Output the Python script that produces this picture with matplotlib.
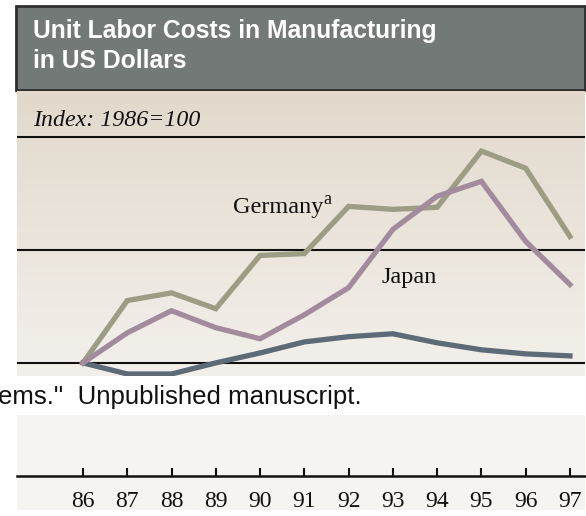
import numpy as np
import matplotlib
matplotlib.use("Agg")
import matplotlib.pyplot as plt
from matplotlib.patches import Rectangle
from matplotlib.colors import LinearSegmentedColormap

# Index values, 1986 = 100
years = [86, 87, 88, 89, 90, 91, 92, 93, 94, 95, 96, 97]
year_labels = ["86", "87", "88", "89", "90", "91", "92", "93", "94", "95", "96", "97"]
germany = [100, 127.6, 131.0, 124.0, 147.6, 148.4, 169.3, 168.0, 168.9, 193.8, 186.2, 156.0]
japan = [100, 113.3, 123.1, 115.6, 110.7, 121.3, 133.3, 159.1, 173.8, 180.4, 153.8, 134.7]
united_states = [100, 95.1, 95.1, 100.0, 104.4, 109.3, 111.6, 112.9, 108.9, 105.8, 104.0, 103.1]
grid_levels = [100, 150, 200]

W, H = 586, 516
fig = plt.figure(figsize=(W / 100, H / 100), dpi=100)
fig.patch.set_facecolor("white")


def box(x0, y0, x1, y1):
    """Pixel box (top-left origin) -> figure fraction rect."""
    return [x0 / W, 1 - y1 / H, (x1 - x0) / W, (y1 - y0) / H]


def px(x, y):
    return x / W, 1 - y / H


# Title banner
fig.patches.append(Rectangle(px(16, 90), (585 - 16) / W, (90 - 6) / H,
                             transform=fig.transFigure, facecolor="#737977",
                             edgecolor="#2e2e2e", linewidth=2, zorder=-1))
fig.text(*px(33, 31), "Unit Labor Costs in Manufacturing", color="white",
         fontsize=17.7, fontweight="bold", family="Liberation Sans", va="center", ha="left")
fig.text(*px(33, 61), "in US Dollars", color="white",
         fontsize=17.7, fontweight="bold", family="Liberation Sans", va="center", ha="left")

# Main panel
x_lo, x_hi = 84.51, 97.34
ax = fig.add_axes(box(17, 91, 585, 376))
ax.set_xlim(x_lo, x_hi)
ax.set_ylim(94.2, 220.4)
grad = LinearSegmentedColormap.from_list("panel", ["#e2d9cc", "#f3f0eb"])
ax.imshow(np.linspace(0, 1, 256).reshape(-1, 1), cmap=grad, aspect="auto",
          extent=[0, 1, 0, 1], transform=ax.transAxes, origin="upper", zorder=0)
for s in ax.spines.values():
    s.set_visible(False)
ax.set_xticks([])
ax.set_yticks([])
for g in grid_levels:
    ax.axhline(g, color="#111111", linewidth=1.5, zorder=1)

ax.plot(years, germany, color="#9c9d84", linewidth=3.8, solid_joinstyle="miter", zorder=3)
ax.plot(years, japan, color="#a38b9e", linewidth=3.8, solid_joinstyle="miter", zorder=3)
ax.plot(years, united_states, color="#5d6b78", linewidth=3.8, solid_joinstyle="miter", zorder=2)

fig.text(*px(33, 120), "Index: 1986=100", fontsize=17.2, style="italic",
         family="Liberation Serif", va="center", ha="left", color="#111111")
fig.text(*px(233, 213), "Germany", fontsize=17.5, family="Liberation Serif",
         va="baseline", ha="left", color="#111111")
fig.text(*px(323, 204), "a", fontsize=13, family="Liberation Serif",
         va="baseline", ha="left", color="#111111")
fig.text(*px(381, 283), "Japan", fontsize=17.5, family="Liberation Serif",
         va="baseline", ha="left", color="#111111")

# Source line
fig.text(*px(-2, 397), "ems.\"  Unpublished manuscript.", fontsize=18.6,
         family="Liberation Sans", va="center", ha="left", color="#111111")

# Lower axis panel
fig.patches.append(Rectangle(px(17, 510), (585 - 17) / W, (510 - 415) / H,
                             transform=fig.transFigure, facecolor="#f5f4f1",
                             edgecolor="none", zorder=-1))
ax2 = fig.add_axes(box(17, 415, 585, 476))
ax2.set_facecolor("none")
ax2.set_xlim(x_lo, x_hi)
ax2.set_ylim(0, 1)
for name, s in ax2.spines.items():
    s.set_visible(name == "bottom")
ax2.spines["bottom"].set_linewidth(1.8)
ax2.spines["bottom"].set_color("#111111")
ax2.set_yticks([])
ax2.set_xticks(years)
ax2.set_xticklabels(year_labels, family="Liberation Serif", fontsize=17, color="#111111")
ax2.tick_params(axis="x", direction="in", length=6, width=1.5, pad=11, color="#111111")

fig.savefig("out.png", dpi=100)
